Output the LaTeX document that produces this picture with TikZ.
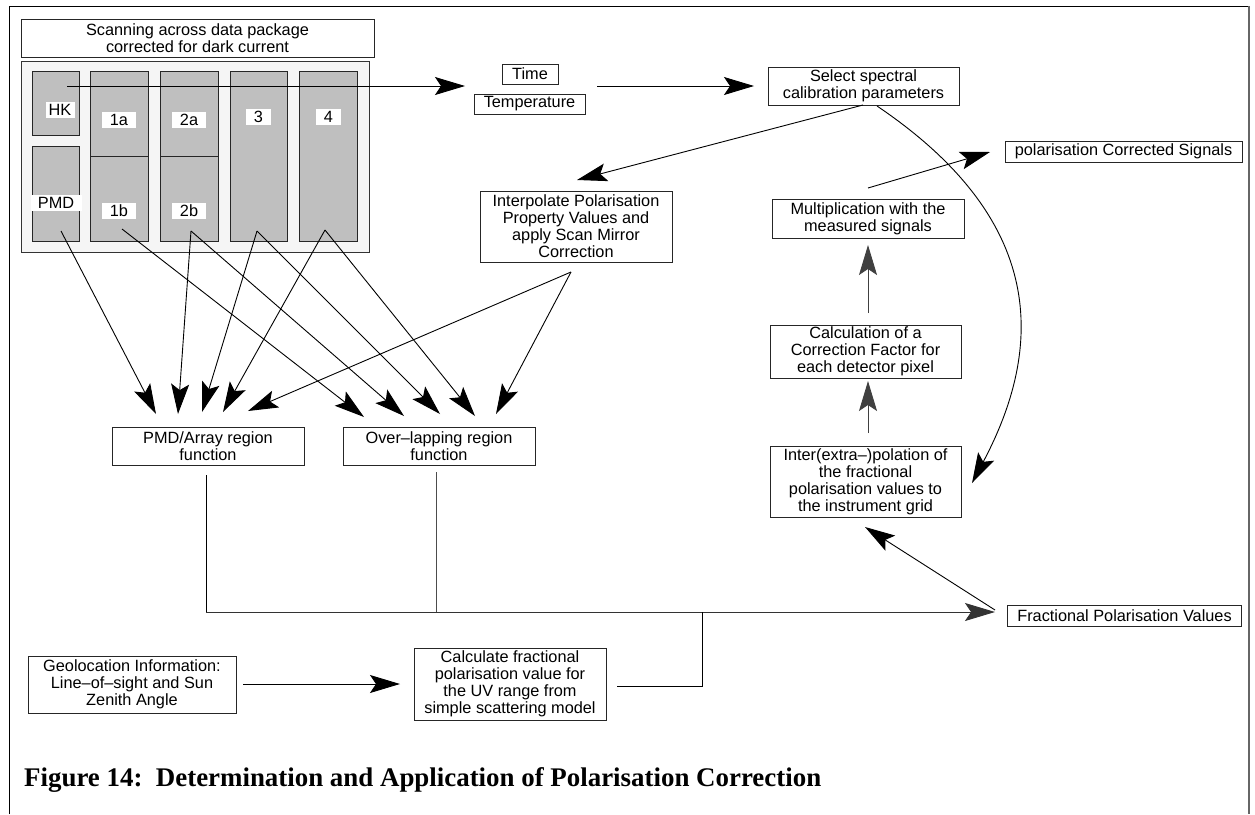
\documentclass[tikz,border=0pt]{standalone}
\usepackage{fontspec}
\setmainfont{Liberation Sans}
\newfontfamily\capfont{Liberation Serif}
\usetikzlibrary{arrows.meta}
\begin{document}
\begin{tikzpicture}[x=1pt,y=-1pt,
  txt/.style={font=\fontsize{16.3}{17}\selectfont},
  box/.style={txt,draw=black!85,line width=1pt,fill=white,inner sep=0pt,align=center},
  cell/.style={draw=black!85,line width=1pt,fill=black!25,inner sep=0pt},
  lab/.style={txt,fill=white,inner sep=0pt,minimum height=16pt},
  conn/.style={line width=0.9pt,black},
  arr/.style={conn,-{Stealth[length=30pt,width=18pt,inset=6pt]}}]
\useasboundingbox (0,0) rectangle (1255,814);
% outer frame
\draw[line width=1pt] (9,814) -- (9,6) -- (1249,6);
\draw[line width=1.6pt,black!60] (1249,6) -- (1249,814);

% top-left package
\node[box,minimum width=353pt,minimum height=38pt] (scan) at (197.5,38) {Scanning across data package\\corrected for dark current};
\node[draw=black!80,line width=1pt,fill=black!4,minimum width=348pt,minimum height=191pt,inner sep=0pt] (panel) at (195,156.5) {};
\node[cell,minimum width=47pt,minimum height=64pt] (hk) at (55.5,103) {};
\node[cell,minimum width=47pt,minimum height=95pt] (pmd) at (55.5,193.5) {};
\node[cell,minimum width=58pt,minimum height=85pt] (c1a) at (119,113.5) {};
\node[cell,minimum width=58pt,minimum height=85pt] (c1b) at (119,198.5) {};
\node[cell,minimum width=58pt,minimum height=85pt] (c2a) at (189,113.5) {};
\node[cell,minimum width=58pt,minimum height=85pt] (c2b) at (189,198.5) {};
\node[cell,minimum width=57pt,minimum height=170pt] (c3) at (258.5,156) {};
\node[cell,minimum width=58pt,minimum height=170pt] (c4) at (328,156) {};
\node[lab,minimum width=29pt] (lhk) at (60,110) {HK};
\node[lab,minimum width=51pt] (lpmd) at (56,203) {PMD};
\node[lab,minimum width=34pt] (l1a) at (119,120) {1a};
\node[lab,minimum width=34pt] (l2a) at (189,120) {2a};
\node[lab,minimum width=25pt] (l3) at (258.5,117) {3};
\node[lab,minimum width=25pt] (l4) at (328.5,117) {4};
\node[lab,minimum width=34pt] (l1b) at (119,211) {1b};
\node[lab,minimum width=34pt] (l2b) at (189,211) {2b};

% other boxes
\node[box,minimum width=56pt,minimum height=20pt] (time) at (530,74) {Time};
\node[box,minimum width=111pt,minimum height=20pt] (temp) at (529.5,104) {Temperature};
\node[box,minimum width=191pt,minimum height=38pt] (sel) at (863.5,86) {Select spectral\\calibration parameters};
\node[box,minimum width=192pt,minimum height=71pt] (interp) at (576,226.5) {Interpolate Polarisation\\Property Values and\\apply Scan Mirror\\Correction};
\node[box,minimum width=237pt,minimum height=21pt] (pcs) at (1123.5,151.5) {polarisation Corrected Signals};
\node[box,minimum width=192pt,minimum height=39pt] (mult) at (868,219) {Multiplication with the\\measured signals};
\node[box,minimum width=191pt,minimum height=53pt] (calc) at (865.5,351.5) {Calculation of a\\Correction Factor for\\each detector pixel};
\node[box,minimum width=191pt,minimum height=71pt] (inter) at (865.5,481.5) {Inter(extra–)polation of\\the fractional\\polarisation values to\\the instrument grid};
\node[box,minimum width=192pt,minimum height=38pt] (pa) at (208,446) {PMD/Array region\\function};
\node[box,minimum width=192pt,minimum height=38pt] (ov) at (439,446) {Over–lapping region\\function};
\node[box,minimum width=234pt,minimum height=21pt] (frac) at (1124.5,615.5) {Fractional Polarisation Values};
\node[box,minimum width=208pt,minimum height=57pt] (geo) at (132,684.5) {Geolocation Information:\\Line–of–sight and Sun\\Zenith Angle};
\node[box,minimum width=192pt,minimum height=72pt] (uv) at (510,684) {Calculate fractional\\polarisation value for\\the UV range from\\simple scattering model};

% caption
\node[anchor=base west,inner sep=0pt,font=\capfont\bfseries\fontsize{26.9}{30}\selectfont] (cap) at (24,786) {Figure 14:\ \ Determination and Application of Polarisation Correction};

% connector end points
\coordinate (hkS) at (67,86);
\coordinate (ttIn) at (465,86);
\coordinate (ttOut) at (597,86);
\coordinate (selIn) at (754,86);
\coordinate (selOut) at (863,105);
\coordinate (intIn) at (577,180);
\coordinate (intOut) at (571,272);
\coordinate (pmdS) at (61,231);
\coordinate (c1S) at (122,229);
\coordinate (c2S) at (191,231);
\coordinate (c3S) at (257,231);
\coordinate (c4S) at (325,230);
\coordinate (pa1) at (156,414);
\coordinate (pa2) at (178,414);
\coordinate (pa3) at (202,412);
\coordinate (pa4) at (223,412);
\coordinate (pa5) at (248,411);
\coordinate (ov1) at (364,417);
\coordinate (ov2) at (404,416);
\coordinate (ov3) at (440,414);
\coordinate (ov4) at (475,416);
\coordinate (ov5) at (496,414);
\coordinate (multOut) at (868,188);
\coordinate (pcsIn) at (990,152);
\coordinate (calcOut) at (868,313);
\coordinate (multIn) at (868,245);
\coordinate (interOut) at (868,433);
\coordinate (calcIn) at (868,381);
\coordinate (curveS) at (877,106);
\coordinate (curveE) at (972,483);
\coordinate (fracOut) at (995,610);
\coordinate (interIn) at (865,527);
\coordinate (paOut) at (206,475);
\coordinate (ovOut) at (436,472);
\coordinate (j1) at (206,612);
\coordinate (j2) at (436,612);
\coordinate (j3) at (702,612);
\coordinate (j4) at (702,686);
\coordinate (uvOut) at (617,686);
\coordinate (fracIn) at (995,612);
\coordinate (geoOut) at (243,684);
\coordinate (uvIn) at (400,684);

% connectors
\draw[arr] (hkS) -- (ttIn);
\draw[arr] (ttOut) -- (selIn);
\draw[arr] (selOut) -- (intIn);
\draw[arr] (pmdS) -- (pa1);
\draw[arr] (c2S) -- (pa2);
\draw[arr] (c3S) -- (pa3);
\draw[arr] (c4S) -- (pa4);
\draw[arr] (intOut) -- (pa5);
\draw[arr] (c1S) -- (ov1);
\draw[arr] (c2S) -- (ov2);
\draw[arr] (c3S) -- (ov3);
\draw[arr] (c4S) -- (ov4);
\draw[arr] (intOut) -- (ov5);
\draw[arr] (multOut) -- (pcsIn);
\draw[arr,black!75] (calcOut) -- (multIn);
\draw[arr,black!75] (interOut) -- (calcIn);
\draw[arr] (curveS) .. controls (1037,214) and (1050,336) .. (curveE);
\draw[arr] (fracOut) -- (interIn);
\draw[conn] (paOut) -- (j1);
\draw[conn,black!70] (ovOut) -- (j2);
\draw[arr,black!80] (j1) -- (fracIn);
\draw[conn] (uvOut) -- (j4) -- (j3);
\draw[arr] (geoOut) -- (uvIn);
\end{tikzpicture}
\end{document}
